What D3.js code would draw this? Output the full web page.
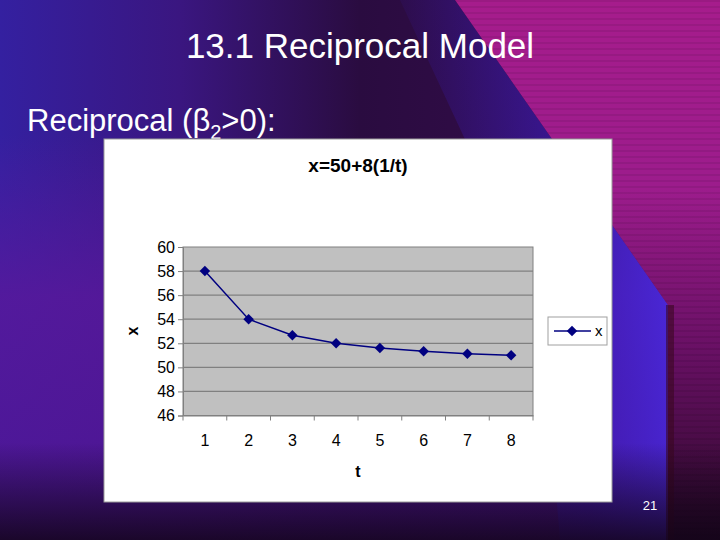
<!DOCTYPE html>
<html lang="en">
<head>
<meta charset="utf-8">
<title>13.1 Reciprocal Model</title>
<script src="https://d3js.org/d3.v7.min.js"></script>
<style>
  html, body { margin: 0; padding: 0; background: #2a0c50; }
  svg { display: block; font-family: "Liberation Sans", Arial, sans-serif; }
</style>
</head>
<body>
<div id="slide"></div>
<script>
// ---------------- data ----------------
var tLabels = ["1", "2", "3", "4", "5", "6", "7", "8"];
var xValues = [58, 54, 52.67, 52, 51.6, 51.33, 51.14, 51];
var yTicks = [46, 48, 50, 52, 54, 56, 58, 60];

var W = 720, H = 540;
var svg = d3.select("#slide").append("svg").attr("width", W).attr("height", H);
var defs = svg.append("defs");

// ---------------- background ----------------
function grad(id, x1, y1, x2, y2, stops) {
  var g = defs.append("linearGradient").attr("id", id)
    .attr("x1", x1).attr("y1", y1).attr("x2", x2).attr("y2", y2);
  stops.forEach(function (s) {
    g.append("stop").attr("offset", s[0]).attr("stop-color", s[1]).attr("stop-opacity", s[2] == null ? 1 : s[2]);
  });
}
grad("bgBase", "0%", "0%", "100%", "0%", [["0%", "#3420a0"], ["25%", "#3a1680"], ["50%", "#2a0c40"], ["100%", "#3a0c50"]]);
grad("bgLow", "0%", "0%", "0%", "100%", [["0%", "#000", 0], ["25%", "#5a1aa0", 0.0], ["55%", "#5a189c", 0.8], ["100%", "#4c1594", 0.9]]);
grad("bgBottom", "0%", "0%", "0%", "100%", [["0%", "#000", 0], ["82%", "#120418", 0], ["100%", "#120418", 0.85]]);
grad("magenta", "0%", "0%", "0%", "100%", [["0%", "#a61c8c"], ["35%", "#9c1c8c"], ["65%", "#681064"], ["100%", "#2a0828"]]);
grad("glow", "0%", "50%", "100%", "30%", [["0%", "#3a1cc0", 0], ["60%", "#3c1ec8", 0.55], ["100%", "#4a2ae0", 0.95]]);

svg.append("rect").attr("width", W).attr("height", H).attr("fill", "url(#bgBase)");
svg.append("rect").attr("width", W).attr("height", H).attr("fill", "url(#bgLow)");

// blue ribbon left of the diagonal edge
svg.append("path")
  .attr("d", "M400,0 L455,0 L668,305 L668,540 L560,540 L540,300 Z")
  .attr("fill", "url(#glow)");

// magenta panel on the right, with faint horizontal streaks
var magPath = "M455,0 L720,0 L720,540 L668,540 L668,305 Z";
svg.append("path").attr("d", magPath).attr("fill", "url(#magenta)");
defs.append("clipPath").attr("id", "magClip").append("path").attr("d", magPath);
var streaks = svg.append("g").attr("clip-path", "url(#magClip)");
d3.range(0, H, 6).forEach(function (yy) {
  streaks.append("rect").attr("x", 440).attr("y", yy).attr("width", 280).attr("height", 2)
    .attr("fill", "#000").attr("opacity", 0.07);
});
svg.append("rect").attr("x", 666).attr("y", 305).attr("width", 8).attr("height", 235)
  .attr("fill", "#3a0620").attr("opacity", 0.6);

svg.append("rect").attr("width", W).attr("height", H).attr("fill", "url(#bgBottom)");

// ---------------- slide text ----------------
svg.append("text").attr("x", 360).attr("y", 58).attr("text-anchor", "middle")
  .attr("fill", "#fff").attr("font-size", 35).text("13.1 Reciprocal Model");

var sub = svg.append("text").attr("x", 27).attr("y", 131)
  .attr("fill", "#fff").attr("font-size", 31);
sub.append("tspan").text("Reciprocal (β");
sub.append("tspan").attr("font-size", 20).attr("dy", 8).text("2");
sub.append("tspan").attr("dy", -8).text(">0):");

svg.append("text").attr("x", 650).attr("y", 510).attr("text-anchor", "middle")
  .attr("fill", "#fff").attr("font-size", 13).text("21");

// ---------------- chart box ----------------
svg.append("rect").attr("x", 104).attr("y", 139).attr("width", 508).attr("height", 363)
  .attr("fill", "#fff").attr("stroke", "#9a9a9a").attr("stroke-width", 1);

svg.append("text").attr("x", 358).attr("y", 172).attr("text-anchor", "middle")
  .attr("font-weight", "bold").attr("font-size", 19).attr("fill", "#000")
  .text("x=50+8(1/t)");

var x = d3.scaleBand().domain(tLabels).range([183, 533]).padding(0);
var y = d3.scaleLinear().domain([46, 60]).range([415.5, 247]);

// plot area
svg.append("rect").attr("x", 183).attr("y", y(60)).attr("width", 350).attr("height", y(46) - y(60))
  .attr("fill", "#c0c0c0").attr("stroke", "#808080").attr("stroke-width", 1);

// gridlines
svg.append("g").selectAll("line").data(yTicks.slice(1, -1)).join("line")
  .attr("x1", 183).attr("x2", 533)
  .attr("y1", function (d) { return y(d); }).attr("y2", function (d) { return y(d); })
  .attr("stroke", "#808080").attr("stroke-width", 1.2);

// y axis
var yAxis = svg.append("g").attr("transform", "translate(183,0)")
  .call(d3.axisLeft(y).tickValues(yTicks).tickSize(5).tickPadding(3).tickFormat(d3.format("d")));
yAxis.select(".domain").attr("stroke", "#808080");
yAxis.selectAll(".tick line").attr("stroke", "#808080");
yAxis.selectAll(".tick text").attr("font-size", 16).attr("fill", "#000")
  .attr("font-family", "Liberation Sans, Arial, sans-serif");

// x axis: ticks on category boundaries
var xAxis = svg.append("g").attr("transform", "translate(0," + y(46) + ")")
  .call(d3.axisBottom(x).tickSize(0).tickPadding(19));
xAxis.select(".domain").attr("stroke", "#808080");
xAxis.selectAll(".tick text").attr("font-size", 16).attr("fill", "#000")
  .attr("font-family", "Liberation Sans, Arial, sans-serif");
var bounds = tLabels.map(function (d) { return x(d); }).concat([x.range()[1]]);
xAxis.append("g").selectAll("line").data(bounds).join("line")
  .attr("x1", function (d) { return d; }).attr("x2", function (d) { return d; })
  .attr("y1", 0).attr("y2", 5).attr("stroke", "#808080");

// axis titles
svg.append("text").attr("x", 358).attr("y", 477).attr("text-anchor", "middle")
  .attr("font-weight", "bold").attr("font-size", 16).text("t");
svg.append("text").attr("transform", "translate(138,331) rotate(-90)").attr("text-anchor", "middle")
  .attr("font-weight", "bold").attr("font-size", 16).text("x");

// series
var pts = tLabels.map(function (d, i) { return [x(d) + x.bandwidth() / 2, y(xValues[i])]; });
svg.append("path").datum(pts)
  .attr("d", d3.line())
  .attr("fill", "none").attr("stroke", "#000080").attr("stroke-width", 1.5);
var diamond = d3.symbol().type(d3.symbolDiamond2).size(70);
svg.append("g").selectAll("path").data(pts).join("path")
  .attr("transform", function (d) { return "translate(" + d[0] + "," + d[1] + ")"; })
  .attr("d", diamond).attr("fill", "#000080");

// legend
svg.append("rect").attr("x", 548).attr("y", 317).attr("width", 59).attr("height", 28)
  .attr("fill", "#fff").attr("stroke", "#a0a0a0");
svg.append("line").attr("x1", 554).attr("x2", 591).attr("y1", 331).attr("y2", 331)
  .attr("stroke", "#000080").attr("stroke-width", 1.5);
svg.append("path").attr("transform", "translate(572,331)").attr("d", diamond).attr("fill", "#000080");
svg.append("text").attr("x", 595).attr("y", 336).attr("font-size", 15).text("x");
</script>
</body>
</html>
